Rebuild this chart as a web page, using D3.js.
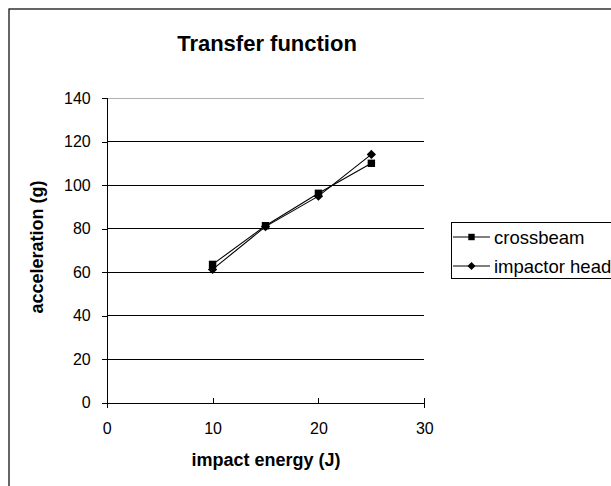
<!DOCTYPE html>
<html><head><meta charset="utf-8">
<script src="https://cdn.jsdelivr.net/npm/d3@7"></script>
<style>body{margin:0;background:#fff}svg{display:block;font-family:Arial,"Liberation Sans",sans-serif}</style>
</head><body>
<script>
const energy = [10, 15, 20, 25];
const crossbeam = [63.6, 81.4, 96.3, 110.1];
const impactorHead = [61.3, 81.0, 95.0, 114.2];
const seriesNames = ["crossbeam", "impactor head"];
const xTicks = [0, 10, 20, 30];
const yTicks = [0, 20, 40, 60, 80, 100, 120, 140];

const W = 611, H = 486;
const svg = d3.select("body").append("svg").attr("width", W).attr("height", H);
svg.append("rect").attr("x", 9).attr("y", 9).attr("width", 640).attr("height", 520)
  .attr("fill", "#fff").attr("stroke", "#000").attr("stroke-width", 1.2);

const x = d3.scaleLinear().domain([0, 30]).range([106.7, 424.3]);
const y = d3.scaleLinear().domain([0, 140]).range([402.7, 98.3]);

// gridlines
svg.append("g").selectAll("line").data(yTicks.filter(d => d > 0)).join("line")
  .attr("x1", x(0)).attr("x2", x(30)).attr("y1", d => y(d)).attr("y2", d => y(d))
  .attr("stroke", d => d === 140 ? "#b0b0b0" : "#000").attr("stroke-width", 1)
  .attr("shape-rendering", "crispEdges");

const yAxis = svg.append("g").attr("transform", `translate(${x(0)},0)`)
  .call(d3.axisLeft(y).tickValues(yTicks).tickSize(5).tickPadding(11));
const xAxis = svg.append("g").attr("transform", `translate(0,${y(0)})`)
  .call(d3.axisBottom(x).tickValues(xTicks).tickSize(5).tickPadding(15));
[yAxis, xAxis].forEach(g => {
  g.attr("font-size", 16).attr("font-family", "Arial, 'Liberation Sans', sans-serif");
  g.select(".domain").attr("stroke", "#000").attr("shape-rendering", "crispEdges");
  g.selectAll(".tick line").attr("stroke", "#000").attr("shape-rendering", "crispEdges");
  g.selectAll("text").attr("fill", "#000");
});
xAxis.selectAll(".tick line").attr("y1", -5).attr("y2", 0);
yAxis.selectAll(".tick line").attr("x1", -5).attr("x2", 0);

// titles
svg.append("text").attr("x", 267).attr("y", 51).attr("text-anchor", "middle")
  .attr("font-size", 22).attr("font-weight", "bold").text("Transfer function");
svg.append("text").attr("x", 266).attr("y", 466).attr("text-anchor", "middle")
  .attr("font-size", 18).attr("font-weight", "bold").text("impact energy (J)");
svg.append("text").attr("transform", "translate(43,247) rotate(-90)").attr("text-anchor", "middle")
  .attr("font-size", 18).attr("font-weight", "bold").text("acceleration (g)");

const diamondSym = d3.symbolDiamond2 || d3.symbolDiamond;
const series = [
  {name: seriesNames[0], vals: crossbeam, sym: d3.symbolSquare, size: 55},
  {name: seriesNames[1], vals: impactorHead, sym: diamondSym, size: 55}
];
const line = d3.line().x(d => x(d[0])).y(d => y(d[1]));
series.forEach(s => {
  const pts = energy.map((e, i) => [e, s.vals[i]]);
  svg.append("path").attr("d", line(pts)).attr("fill", "none").attr("stroke", "#000").attr("stroke-width", 1.1);
  svg.append("g").selectAll("path").data(pts).join("path")
    .attr("transform", d => `translate(${x(d[0])},${y(d[1])})`)
    .attr("d", d3.symbol().type(s.sym).size(s.size)).attr("fill", "#000");
});

// legend
const lg = svg.append("g");
lg.append("rect").attr("x", 451.5).attr("y", 222.5).attr("width", 170).attr("height", 56)
  .attr("fill", "#fff").attr("stroke", "#000").attr("stroke-width", 1);
series.forEach((s, i) => {
  const yy = 237 + i * 29;
  lg.append("line").attr("x1", 453).attr("x2", 490).attr("y1", yy).attr("y2", yy).attr("stroke", "#000").attr("stroke-width", 1.1);
  lg.append("path").attr("transform", `translate(471.5,${yy})`).attr("d", d3.symbol().type(s.sym).size(s.size * 0.75)).attr("fill", "#000");
  lg.append("text").attr("x", 494).attr("y", yy + 6.5).attr("font-size", 18.5).text(s.name);
});
</script>
</body></html>
